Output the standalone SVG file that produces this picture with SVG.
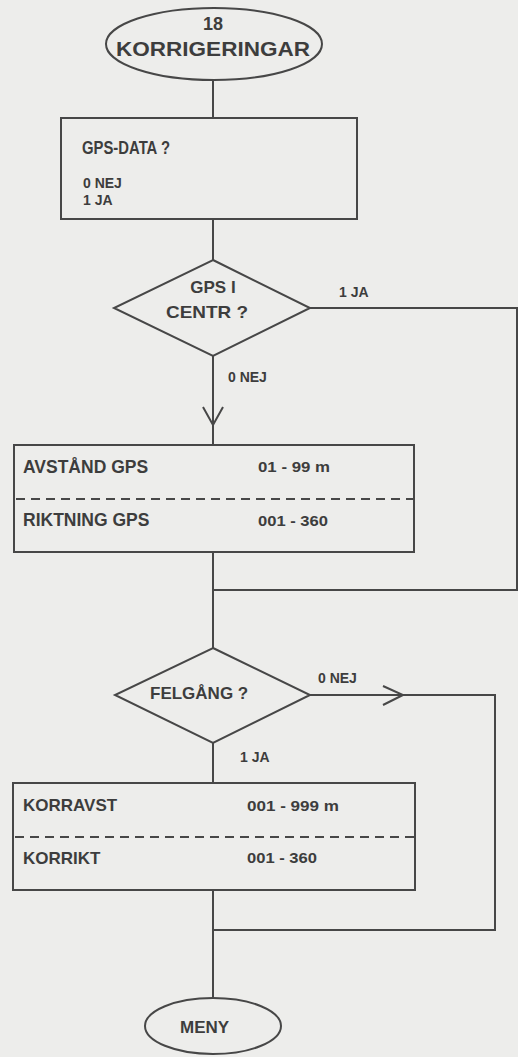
<svg xmlns="http://www.w3.org/2000/svg" width="518" height="1057" viewBox="0 0 518 1057">
<style>
.bg{fill:#ededeb}
.shape{fill:none;stroke:#474747;stroke-width:2}
.dash{fill:none;stroke:#474747;stroke-width:2;stroke-dasharray:9 6}
.line{fill:none;stroke:#474747;stroke-width:2}
text{font-family:"Liberation Sans",Arial,sans-serif;font-weight:bold;fill:#3d3d3d}
.big{font-size:17px}
.sm{font-size:14px}
.num{font-size:14.5px}
.c{text-anchor:middle}
</style>
<rect class="bg" x="0" y="0" width="518" height="1057"/>
<g id="connectors">
<path class="line" d="M213 80 V118"/>
<path class="line" d="M213 219 V260"/>
<path class="line" d="M213 356 V445"/>
<path class="line" d="M203 407 L213 425 L223 407"/>
<path class="line" d="M310 308 H517 V590 H213"/>
<path class="line" d="M213 552 V648"/>
<path class="line" d="M310 695 H495 V930 H213"/>
<path class="line" d="M383 686 L403 695 L383 705"/>
<path class="line" d="M213 743 V783"/>
<path class="line" d="M213 890 V998"/>
<text class="sm" x="339" y="297">1 JA</text>
<text class="sm" x="228" y="382">0 NEJ</text>
<text class="sm" x="318" y="683">0 NEJ</text>
<text class="sm" x="240" y="762">1 JA</text>
</g>
<g id="start">
<ellipse class="shape" cx="214" cy="44" rx="108" ry="36"/>
<text class="c" x="213" y="30" style="font-size:18px">18</text>
<text x="116" y="56" style="font-size:20px" textLength="194" lengthAdjust="spacingAndGlyphs">KORRIGERINGAR</text>
</g>
<g id="gpsdata">
<rect class="shape" x="61" y="118" width="296" height="101"/>
<text x="82" y="154" style="font-size:18.5px" textLength="88" lengthAdjust="spacingAndGlyphs">GPS-DATA ?</text>
<text class="sm" x="83" y="188">0 NEJ</text>
<text class="sm" x="83" y="205">1 JA</text>
</g>
<g id="gpscentr">
<polygon class="shape" points="213,260 310,308 213,356 114,308"/>
<text class="big c" x="213" y="293">GPS I</text>
<text class="big c" x="207" y="318" textLength="82" lengthAdjust="spacingAndGlyphs">CENTR ?</text>
</g>
<g id="avstand">
<rect class="shape" x="14" y="445" width="400" height="107"/>
<path class="dash" d="M16 499 H413"/>
<text class="big" x="23" y="473" style="font-size:17.5px">AVSTÅND GPS</text>
<text class="num" x="258" y="472" textLength="72" lengthAdjust="spacingAndGlyphs">01 - 99 m</text>
<text class="big" x="23" y="526" style="font-size:17.5px">RIKTNING GPS</text>
<text class="num" x="258" y="526" textLength="70" lengthAdjust="spacingAndGlyphs">001 - 360</text>
</g>
<g id="felgang">
<polygon class="shape" points="213,648 310,695 213,743 115,695"/>
<text class="big" x="150" y="699">FELGÅNG ?</text>
</g>
<g id="korr">
<rect class="shape" x="13" y="783" width="402" height="107"/>
<path class="dash" d="M15 837 H414"/>
<text class="big" x="23" y="811">KORRAVST</text>
<text class="num" x="247" y="811" textLength="92" lengthAdjust="spacingAndGlyphs">001 - 999 m</text>
<text class="big" x="23" y="864">KORRIKT</text>
<text class="num" x="247" y="863" textLength="70" lengthAdjust="spacingAndGlyphs">001 - 360</text>
</g>
<g id="meny">
<ellipse class="shape" cx="213" cy="1026" rx="68" ry="28"/>
<text class="big" x="180" y="1033">MENY</text>
</g>
</svg>
